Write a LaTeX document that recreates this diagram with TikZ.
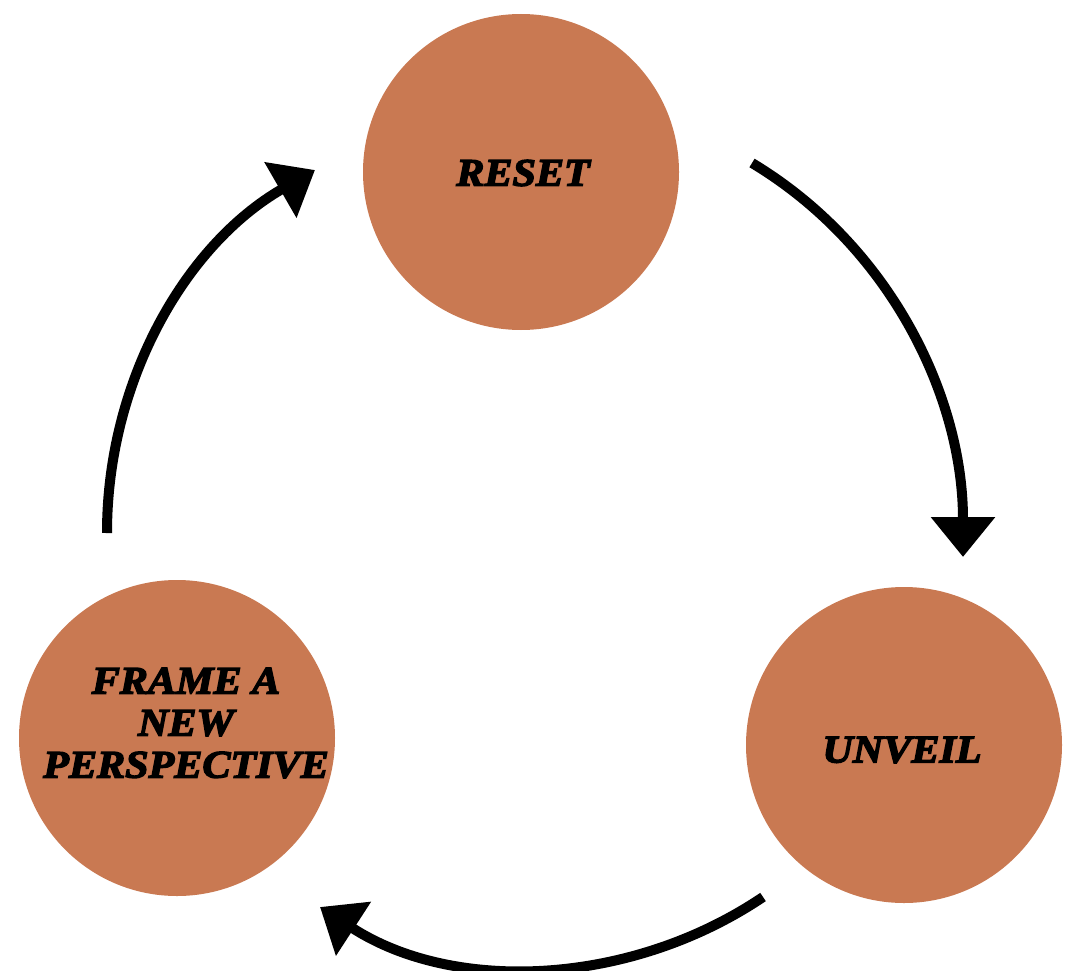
\documentclass[tikz,border=0pt]{standalone}
\usepackage{fontspec}
\usetikzlibrary{arrows.meta}
\newfontfamily\posterfont[FakeStretch=1.08]{Liberation Serif Bold Italic}
\newcommand{\heavytext}[1]{\special{pdf:literal direct 2 Tr 1.4 w}#1\special{pdf:literal direct 0 Tr}}
\definecolor{stagefill}{RGB}{201,121,82}
\tikzset{
  stage/.style={circle, fill=stagefill, draw=none, minimum size=316pt, inner sep=0pt},
  stagetext/.style={font=\posterfont\fontsize{39}{42}\selectfont, align=center, text=black, inner sep=0pt},
  cyclearrow/.style={line width=10pt, -{Triangle[length=40pt,width=62pt]}}
}
\begin{document}
\begin{tikzpicture}[x=1pt,y=1pt]
\useasboundingbox (0,0) rectangle (1065,-971);
\node[stage] (reset) at (521,-172) {};
\node[stage] (unveil) at (904,-745) {};
\node[stage] (frame) at (177,-738) {};
\node[stagetext] (resetlabel) at (523,-173) {\heavytext{RESET}};
\node[stagetext] (unveillabel) at (902,-750) {\heavytext{UNVEIL}};
\node[stagetext] (framelabel) at (186,-723) {\heavytext{FRAME A}\\\heavytext{NEW}\\\heavytext{PERSPECTIVE}};
\coordinate (a1s) at (752,-163);
\coordinate (a1e) at (963,-557);
\coordinate (a2s) at (763,-897);
\coordinate (a2e) at (320,-907);
\coordinate (a3s) at (107,-533);
\coordinate (a3e) at (315,-170);
\draw[cyclearrow] (a1s) to[out=-31,in=90,looseness=0.92] (a1e);
\draw[cyclearrow] (a2s) to[out=-146,in=-33,looseness=0.92] (a2e);
\draw[cyclearrow] (a3s) to[out=90,in=-150,looseness=0.92] (a3e);
\end{tikzpicture}
\end{document}
